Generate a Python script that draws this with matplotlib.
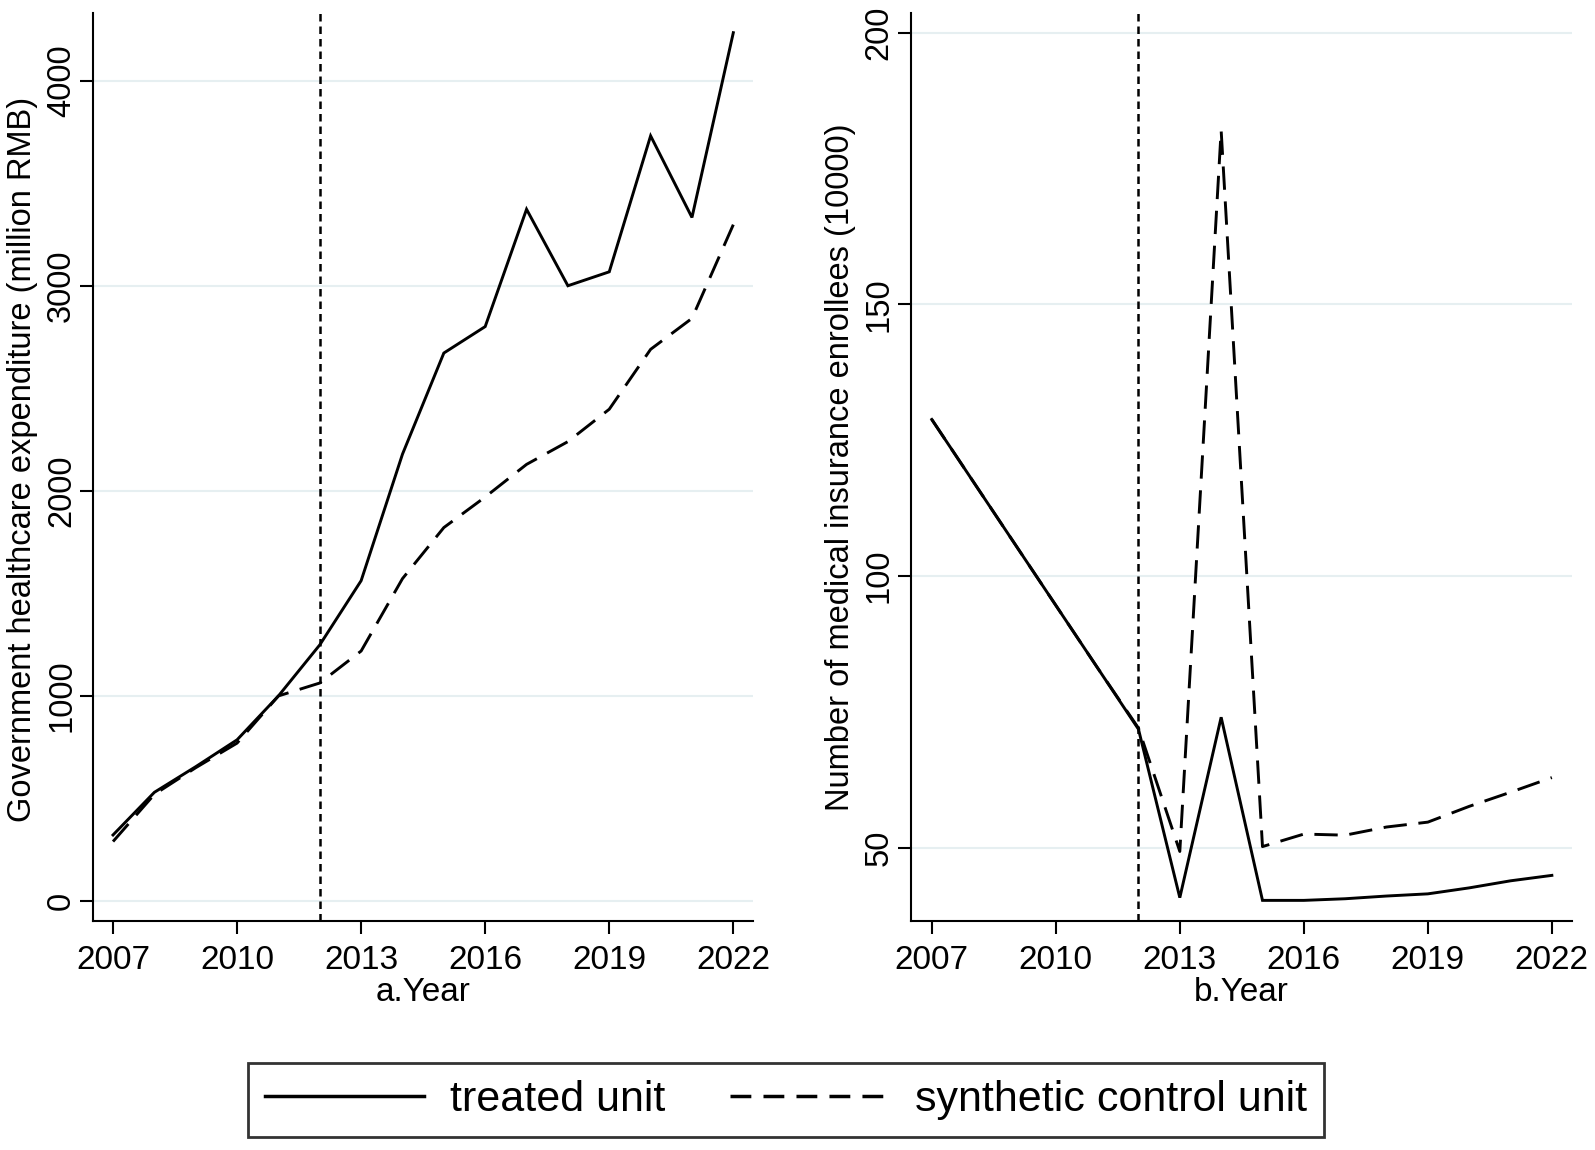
import matplotlib
matplotlib.use("Agg")
import matplotlib.pyplot as plt
from matplotlib.lines import Line2D

plt.rcParams['font.family'] = ['Liberation Sans', 'DejaVu Sans']

years = list(range(2007, 2023))
# Panel a: Government healthcare expenditure (million RMB)
expend_treated = [322, 530, 655, 786, 1000, 1249, 1562, 2179, 2672, 2801, 3373, 3000, 3068, 3731, 3333, 4234]
expend_synth = [290, 520, 650, 770, 1000, 1063, 1219, 1572, 1821, 1970, 2129, 2240, 2398, 2690, 2841, 3298]
# Panel b: Number of medical insurance enrollees (10000)
enroll_treated = [128.8, 117.4, 106.0, 94.6, 83.2, 71.8, 40.8, 74.0, 40.3, 40.3, 40.6, 41.1, 41.5, 42.6, 43.9, 44.9]
enroll_synth = [128.8, 117.4, 106.0, 94.6, 83.2, 72.0, 49.3, 182.0, 50.2, 52.5, 52.3, 53.8, 54.7, 57.6, 60.2, 62.9]

xticks = [2007, 2010, 2013, 2016, 2019, 2022]
yticks_a = [0, 1000, 2000, 3000, 4000]
yticks_b = [50, 100, 150, 200]
treat_year = 2012

W, H = 1595, 1150
fig = plt.figure(figsize=(W/100, H/100), dpi=100)
ax1 = fig.add_axes([93/W, 1-920.7/H, 660/W, 907.7/H])
ax2 = fig.add_axes([910.7/W, 1-920.7/H, 661/W, 907.7/H])

grid_color = '#e6eff1'
lw = 2.1
synth_dash = (0, (8, 4))
vline_dash = (0, (3, 2))
fs = 24

def style(ax, yticks, ylim, xlim, ylabel, xlabel, label_x, label_y):
    ax.set_xlim(*xlim)
    ax.set_ylim(*ylim)
    ax.set_xticks(xticks)
    ax.set_yticks(yticks)
    for y in yticks:
        ax.axhline(y, color=grid_color, lw=1.5, zorder=0)
    ax.spines['top'].set_visible(False)
    ax.spines['right'].set_visible(False)
    ax.spines['left'].set_linewidth(1.5)
    ax.spines['bottom'].set_linewidth(1.5)
    ax.tick_params(axis='both', direction='out', length=9.5, width=1.5, labelsize=fs)
    ax.tick_params(axis='x', pad=8)
    ax.tick_params(axis='y', pad=2, labelsize=23.5)
    for lab in ax.get_yticklabels():
        lab.set_rotation(90)
        lab.set_va('center')
    ax.set_ylabel(ylabel, fontsize=23.5, va='center')
    ax.yaxis.set_label_coords(label_x, label_y)
    ax.set_xlabel(xlabel, fontsize=fs, labelpad=1)
    ax.axvline(treat_year, color='black', lw=1.8, linestyle=vline_dash, zorder=3)

ax1.plot(years, expend_treated, color='black', lw=lw, solid_joinstyle='miter')
ax1.plot(years, expend_synth, color='black', lw=lw, linestyle=synth_dash)
style(ax1, yticks_a, (-96, 4330), (2006.516, 2022.476),
      'Government healthcare expenditure (million RMB)', 'a.Year', -0.107, 0.508)

ax2.plot(years, enroll_treated, color='black', lw=lw, solid_joinstyle='miter')
ax2.plot(years, enroll_synth, color='black', lw=lw, linestyle=synth_dash)
style(ax2, yticks_b, (36.56, 203.6), (2006.49, 2022.48),
      'Number of medical insurance enrollees (10000)', 'b.Year', -0.106, 0.5)

handles = [Line2D([], [], color='black', lw=2.5),
           Line2D([], [], color='black', lw=2.5, linestyle=(0, (6, 3.5)))]
leg = fig.legend(handles, ['treated unit', 'synthetic control unit'], loc='center',
                 bbox_to_anchor=(786/W, 1-1100/H), ncol=2, fontsize=31,
                 frameon=True, fancybox=False, edgecolor='black', handlelength=3.7,
                 columnspacing=1.5, handletextpad=0.6, borderpad=0.4)
leg.get_frame().set_linewidth(2.0)

fig.savefig('out.png', dpi=100, facecolor='white')
